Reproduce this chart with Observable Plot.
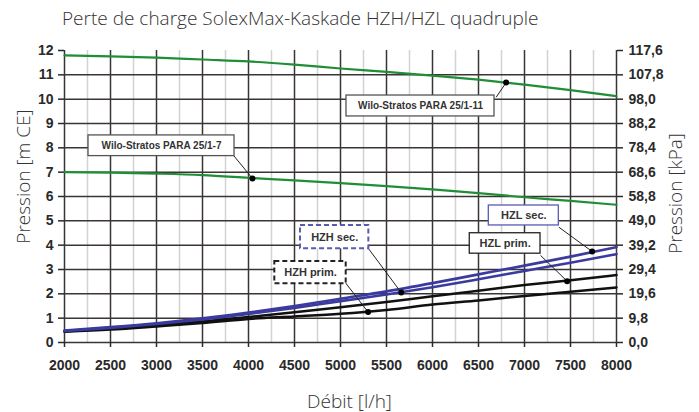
<!DOCTYPE html>
<html><head><meta charset="utf-8">
<script src="https://cdn.jsdelivr.net/npm/d3@7"></script>
<script src="https://cdn.jsdelivr.net/npm/@observablehq/plot@0.6"></script>
<style>
body{margin:0;background:#fff;}
#title{position:absolute;left:62px;top:6px;font-family:"Open Sans";font-weight:300;font-size:19px;color:#333;white-space:nowrap;line-height:1.362;}
#grid,#axes,#front{position:absolute;left:0;top:36px;}
#axes,#front{pointer-events:none;}
</style></head><body>
<div id="grid"></div>
<div id="axes"></div>
<div id="front"></div>
<div id="title">Perte de charge SolexMax-Kaskade HZH/HZL quadruple</div>
<script>
// Débit [l/h]
const flow = [2000, 2500, 3000, 3500, 4000, 4500, 5000, 5500, 6000, 6500, 7000, 7500, 8000];
// Pression [m CE]
const wilo11  = [11.8, 11.76, 11.71, 11.63, 11.55, 11.42, 11.26, 11.12, 10.97, 10.8, 10.6, 10.37, 10.12];
const wilo7   = [7.0, 6.98, 6.94, 6.88, 6.77, 6.66, 6.55, 6.43, 6.29, 6.14, 5.97, 5.82, 5.66];
const hzlSec  = [0.49, 0.63, 0.79, 0.99, 1.23, 1.5, 1.8, 2.1, 2.44, 2.8, 3.16, 3.53, 3.92];
const hzhSec  = [0.47, 0.6, 0.76, 0.95, 1.17, 1.42, 1.7, 1.97, 2.27, 2.6, 2.94, 3.28, 3.63];
const hzlPrim = [0.46, 0.56, 0.7, 0.86, 1.05, 1.24, 1.45, 1.66, 1.9, 2.13, 2.36, 2.56, 2.77];
const hzhPrim = [0.44, 0.53, 0.66, 0.8, 0.97, 1.07, 1.18, 1.34, 1.56, 1.73, 1.91, 2.09, 2.26];

const xTicks = [2000, 2500, 3000, 3500, 4000, 4500, 5000, 5500, 6000, 6500, 7000, 7500, 8000];
const xMinor = [2250, 2750, 3250, 3750, 4250, 4750, 5250, 5750, 6250, 6750, 7250, 7750];
const yTicks = [0, 1, 2, 3, 4, 5, 6, 7, 8, 9, 10, 11, 12];
const kpaLabels = ["0,0", "9,8", "19,6", "29,4", "39,2", "49,0", "58,8", "68,6", "78,4", "88,2", "98,0", "107,8", "117,6"];

// annotations (data units)
const annText  = ["Wilo-Stratos PARA 25/1-7", "Wilo-Stratos PARA 25/1-11", "HZH sec.", "HZH prim.", "HZL sec.", "HZL prim."];
const annBoxX1 = [2261, 5065, 4565, 4286, 6612, 6405];
const annBoxX2 = [3848, 6674, 5308, 5062, 7373, 7174];
const annBoxY1 = [7.66, 9.29, 3.85, 2.41, 4.81, 3.65];
const annBoxY2 = [8.51, 10.15, 4.81, 3.33, 5.63, 4.49];
const annFromX = [3837, 6692, 5304, 5043, 7373, 7174];
const annFromY = [7.69, 10.08, 3.86, 2.51, 4.74, 3.58];
const annDotX  = [4043, 6800, 5660, 5300, 7735, 7463];
const annDotY  = [6.74, 10.68, 2.05, 1.25, 3.74, 2.52];

const toRows = (ys) => flow.map((x, i) => ({x, y: ys[i]}));
const ann = annText.map((t, i) => ({
  t, bx1: annBoxX1[i], bx2: annBoxX2[i], by1: annBoxY1[i], by2: annBoxY2[i],
  lx: annFromX[i], ly: annFromY[i], px: annDotX[i], py: annDotY[i]
}));
const isWilo = d => d.t.startsWith("Wilo");
const boxStroke = d => d.t.includes("sec.") ? "#5a5ab4" : (isWilo(d) ? "#555" : "#222");
const dashed = ann.filter(d => d.t.startsWith("HZH"));
const solid = ann.filter(d => !d.t.startsWith("HZH"));

const gridColor = "#3a3434";
const green = "#1f8e36";
const blue = "#3b3b9f";
const xMin = xTicks[0], xMax = xTicks[xTicks.length - 1];
const yMin = yTicks[0], yMax = yTicks[yTicks.length - 1];

const frame = {
  width: 699, height: 376, marginTop: 14, marginBottom: 70, marginLeft: 64, marginRight: 83
};
const openSans = "'Open Sans', sans-serif";
const libSans = "'Liberation Sans', Arial, sans-serif";

// layer 1: grid only
const gridSvg = Plot.plot({
  ...frame,
  x: {domain: [xMin, xMax], axis: null}, y: {domain: [yMin, yMax], axis: null},
  style: {background: "#fff"},
  marks: [
    Plot.gridX({ticks: xMinor, stroke: "#d2d2d2", strokeOpacity: 1, strokeWidth: 1.5}),
    Plot.gridX({ticks: xTicks, stroke: gridColor, strokeOpacity: 1, strokeWidth: 1.5}),
    Plot.gridY({ticks: yTicks.slice(0, -1), stroke: gridColor, strokeOpacity: 1, strokeWidth: 1.5})
  ]
});

// layer 2: axes and axis titles
const axesSvg = Plot.plot({
  ...frame,
  x: {domain: [xMin, xMax]}, y: {domain: [yMin, yMax]},
  style: {fontFamily: libSans, fontSize: "14px", fontWeight: "bold", background: "none"},
  marks: [
    Plot.axisX({ticks: xTicks, tickFormat: d => String(d), tickSize: 5, tickPadding: 13, label: null, color: "#2a2a2a", strokeWidth: 1.5, fontSize: 14, fontWeight: "bold"}),
    Plot.axisY({anchor: "left", ticks: yTicks, tickFormat: d => String(d), tickSize: 6, tickPadding: 5, label: null, color: "#2a2a2a", strokeWidth: 1.5, fontSize: 14, fontWeight: "bold"}),
    Plot.axisY({anchor: "right", ticks: yTicks, tickFormat: d => kpaLabels[yTicks.indexOf(d)], tickSize: 6, tickPadding: 6, label: null, color: "#2a2a2a", strokeWidth: 1.5, fontSize: 14, fontWeight: "bold"}),
    Plot.text(["Pression [m CE]"], {frameAnchor: "left", textAnchor: "middle", lineAnchor: "middle", dx: -41, dy: -20, rotate: -90, fontSize: 19, fontWeight: 300, fill: "#333", fontFamily: openSans}),
    Plot.text(["Pression [kPa]"], {frameAnchor: "right", textAnchor: "middle", lineAnchor: "middle", dx: 59, dy: -3, rotate: -90, fontSize: 19, fontWeight: 300, fill: "#333", fontFamily: openSans}),
    Plot.text(["Débit [l/h]"], {frameAnchor: "bottom", textAnchor: "middle", lineAnchor: "bottom", dx: 9, dy: 65, fontSize: 19, fontWeight: 300, fill: "#333", fontFamily: openSans})
  ]
});

// layer 3: data and annotations
const front = Plot.plot({
  ...frame,
  style: {fontFamily: libSans, background: "none"},
  x: {domain: [xMin, xMax], axis: null},
  y: {domain: [yMin, yMax], axis: null},
  marks: [
    Plot.line(toRows(wilo11), {x: "x", y: "y", stroke: green, strokeWidth: 2.2, curve: "monotone-x"}),
    Plot.line(toRows(wilo7), {x: "x", y: "y", stroke: green, strokeWidth: 2.2, curve: "monotone-x"}),
    Plot.line(toRows(hzhPrim), {x: "x", y: "y", stroke: "#111", strokeWidth: 2.5, curve: "monotone-x"}),
    Plot.line(toRows(hzlPrim), {x: "x", y: "y", stroke: "#111", strokeWidth: 2.5, curve: "monotone-x"}),
    Plot.line(toRows(hzhSec), {x: "x", y: "y", stroke: blue, strokeWidth: 2.6, curve: "monotone-x"}),
    Plot.line(toRows(hzlSec), {x: "x", y: "y", stroke: blue, strokeWidth: 2.6, curve: "monotone-x"}),
    Plot.link(ann, {x1: "lx", y1: "ly", x2: "px", y2: "py", stroke: "#222", strokeWidth: 1}),
    Plot.rect(solid, {x1: "bx1", x2: "bx2", y1: "by1", y2: "by2", fill: "white", stroke: boxStroke, strokeWidth: 1.3}),
    Plot.rect(dashed, {x1: "bx1", x2: "bx2", y1: "by1", y2: "by2", fill: "white", stroke: boxStroke, strokeWidth: 2, strokeDasharray: "5,3"}),
    Plot.text(ann.filter(isWilo), {x: d => (d.bx1 + d.bx2) / 2, y: d => (d.by1 + d.by2) / 2, text: "t", fontSize: 10, fontWeight: "bold", fill: "#333"}),
    Plot.text(ann.filter(d => !isWilo(d)), {x: d => (d.bx1 + d.bx2) / 2, y: d => (d.by1 + d.by2) / 2, text: "t", fontSize: 11, fontWeight: "bold", fill: "#333"}),
    Plot.dot(ann, {x: "px", y: "py", r: 3, fill: "#000", stroke: "none"})
  ]
});

document.getElementById("grid").appendChild(gridSvg);
document.getElementById("axes").appendChild(axesSvg);
document.getElementById("front").appendChild(front);
</script></body></html>
